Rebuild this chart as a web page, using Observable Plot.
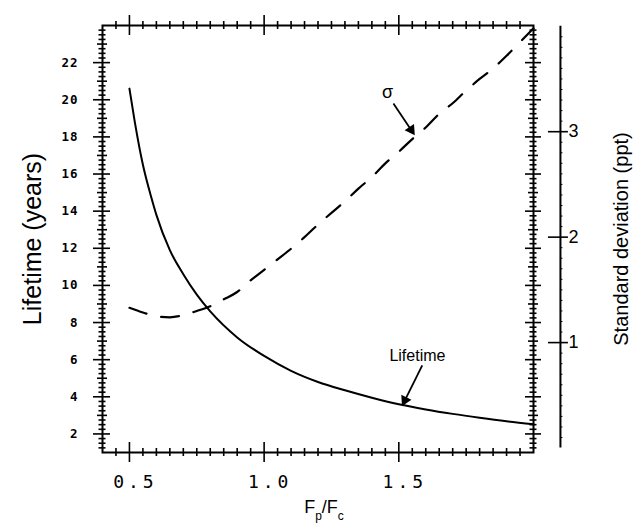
<!DOCTYPE html>
<html>
<head>
<meta charset="utf-8">
<script src="https://cdn.jsdelivr.net/npm/d3@7"></script>
<script src="https://cdn.jsdelivr.net/npm/@observablehq/plot@0.6"></script>
<style>
  html, body { margin: 0; padding: 0; background: #fff; }
  #chart { width: 635px; height: 531px; }
  .xtick text { letter-spacing: 4px; }
  .ytick text { letter-spacing: 1px; }
</style>
</head>
<body>
<div id="chart"></div>
<script>
// Particle lifetime (years) versus the flux ratio Fp/Fc
const lifetimeRatio = [0.5, 0.52, 0.55, 0.58, 0.6, 0.65, 0.7, 0.75, 0.8, 0.9, 1.0, 1.1, 1.2, 1.3, 1.4, 1.5, 1.6, 1.7, 1.8, 1.9, 2.0];
const lifetimeYears = [20.6, 18.8, 16.5, 14.8, 13.8, 11.9, 10.6, 9.5, 8.6, 7.2, 6.2, 5.4, 4.8, 4.35, 3.95, 3.6, 3.32, 3.08, 2.87, 2.68, 2.52];

// Standard deviation (ppt) versus the same ratio
const sigmaRatio = [0.5, 0.55, 0.6, 0.65, 0.7, 0.75, 0.8, 0.85, 0.9, 0.95, 1.0, 1.05, 1.1, 1.15, 1.2, 1.25, 1.3, 1.35, 1.4, 1.45, 1.5, 1.55, 1.6, 1.65, 1.7, 1.75, 1.8, 1.85, 1.9, 1.95, 2.0];
const sigmaPpt = [1.33, 1.285, 1.25, 1.24, 1.26, 1.30, 1.345, 1.41, 1.48, 1.59, 1.69, 1.79, 1.89, 2.0, 2.12, 2.23, 2.34, 2.46, 2.57, 2.70, 2.81, 2.93, 3.04, 3.17, 3.27, 3.39, 3.50, 3.60, 3.72, 3.85, 3.98];

// Tick labels
const xTickLabels = [0.5, 1.0, 1.5];
const yTickLabels = [2, 4, 6, 8, 10, 12, 14, 16, 18, 20, 22];
const sigmaTickLabels = [1, 2, 3];

// Axis extents
const xDomain = [0.4, 2.0];
const yDomain = [1, 24];
const sigmaDomain = [0, 4];
const sigmaAxisAt = 2.1;

// The standard deviation shares the lifetime y scale through a linear map
const sigmaToYears = s => 1.24 + 5.68 * s;

const lifetime = lifetimeRatio.map((r, i) => ({r, v: lifetimeYears[i]}));
const sigma = sigmaRatio.map((r, i) => ({r, v: sigmaToYears(sigmaPpt[i])}));

// Callouts: label position, pointer start and pointer tip (ratio, years)
const callouts = [
  {label: "Lifetime", lx: 1.569, ly: 6.22, x1: 1.587, y1: 5.69, x2: 1.516, y2: 3.62},
  {label: "σ", lx: 1.458, ly: 20.39, x1: 1.480, y1: 19.8, x2: 1.554, y2: 18.2}
];

// Layout
const W = 635, H = 531;
const M = {left: 102, right: 102, top: 25, bottom: 79};
const pxPerX = (W - M.left - M.right) / (xDomain[1] - xDomain[0]);
const pxPerY = (H - M.top - M.bottom) / (yDomain[1] - yDomain[0]);

// Filled pointer heads: a triangle set back a little from each tip, turned along the pointer
const heads = callouts.map(c => {
  const dxp = (c.x2 - c.x1) * pxPerX, dyp = -(c.y2 - c.y1) * pxPerY;
  const len = Math.hypot(dxp, dyp), back = 4;
  return {
    x: c.x2 - (dxp / len) * back / pxPerX,
    y: c.y2 + (dyp / len) * back / pxPerY,
    angle: Math.atan2(dxp, -dyp) * 180 / Math.PI
  };
});

// Frame tick positions
const steps = (a, b, step) => d3.range(Math.round(a / step), Math.round(b / step) + 1).map(k => +(k * step).toFixed(4));
const xMinor = steps(0.45, 1.95, 0.05).filter(d => !xTickLabels.some(t => Math.abs(t - d) < 1e-6));
const yMinor = steps(1.25, 23.75, 0.25).filter(d => Math.abs(d - Math.round(d)) > 1e-6);
const yMid = steps(2, 23, 1).filter(d => d % 2 === 1);
const sigmaMinor = steps(0.1, 3.9, 0.1).filter(d => Math.abs(d - Math.round(d)) > 1e-6);

const sans = "'Liberation Sans', Arial, Helvetica, sans-serif";
const mono = "'DejaVu Sans Mono', monospace";

// Short rules that cross an edge of the frame; lengths are in pixels on each side
const xTicks = (values, len, y, sw = 1.6) =>
  Plot.ruleX(values, {x: d => d, y1: y - len / pxPerY, y2: y + len / pxPerY, strokeWidth: sw});
const yTicks = (values, lenL, lenR, x, sw = 1.6) =>
  Plot.ruleY(values, {y: d => d, x1: x - lenL / pxPerX, x2: x + lenR / pxPerX, strokeWidth: sw});

const chart = Plot.plot({
  width: W,
  height: H,
  marginLeft: M.left,
  marginRight: M.right,
  marginTop: M.top,
  marginBottom: M.bottom,
  x: {domain: xDomain, axis: null},
  y: {domain: yDomain, axis: null},
  style: {background: "#fff", color: "#000", fontFamily: sans, overflow: "visible"},
  marks: [
    Plot.frame({stroke: "#000", strokeWidth: 2}),

    // ticks on the bottom and top edges
    xTicks(xMinor, 4, yDomain[0]),
    xTicks(xMinor, 4, yDomain[1]),
    xTicks(xTickLabels, 10, yDomain[0]),
    xTicks(xTickLabels, 10, yDomain[1]),

    // ticks on the left and right edges
    yTicks(yMinor, 3.5, 3.5, xDomain[0]),
    yTicks(yMinor, 3.5, 3.5, xDomain[1]),
    yTicks(yMid, 5, 5, xDomain[0]),
    yTicks(yMid, 5, 5, xDomain[1]),
    yTicks(yTickLabels, 9, 8, xDomain[0]),
    yTicks(yTickLabels, 8, 8, xDomain[1]),

    // tick labels
    Plot.text(xTickLabels, {
      x: d => d, y: yDomain[0], dy: 30, dx: 6, text: d => d.toFixed(1),
      fontFamily: mono, fontSize: 18, className: "xtick"
    }),
    Plot.text(yTickLabels, {
      x: xDomain[0], y: d => d, dx: -24, text: d => String(d), textAnchor: "end",
      fontFamily: mono, fontWeight: "bold", fontSize: 12.5, className: "ytick"
    }),

    // separate standard deviation axis on the right
    Plot.ruleX([sigmaAxisAt], {x: d => d, y1: sigmaToYears(sigmaDomain[0]), y2: sigmaToYears(sigmaDomain[1]), strokeWidth: 2}),
    yTicks(sigmaMinor.map(sigmaToYears), 0, 2.5, sigmaAxisAt, 1),
    yTicks(sigmaTickLabels.map(sigmaToYears), 12, 8, sigmaAxisAt),
    Plot.text(sigmaTickLabels, {
      x: sigmaAxisAt, y: d => sigmaToYears(d), dx: 8, text: d => String(d), textAnchor: "start",
      fontFamily: sans, fontSize: 18
    }),

    // curves
    Plot.line(lifetime, {x: "r", y: "v", curve: "monotone-x", stroke: "#000", strokeWidth: 2}),
    Plot.line(sigma, {x: "r", y: "v", curve: "monotone-x", stroke: "#000", strokeWidth: 2.2, strokeDasharray: "18 15"}),

    // callouts
    Plot.text(callouts, {x: "lx", y: "ly", text: "label", fontFamily: sans, fontSize: d => d.label === "σ" ? 18 : 16}),
    Plot.link(callouts, {x1: "x1", y1: "y1", x2: "x2", y2: "y2", stroke: "#000", strokeWidth: 1.8}),
    Plot.dot(heads, {x: "x", y: "y", rotate: "angle", symbol: "triangle", r: 4.2, fill: "#000", stroke: "none"}),

    // axis titles, centred on the frame
    Plot.text(["Lifetime (years)"], {frameAnchor: "left", textAnchor: "middle", dx: -70, rotate: -90, fontFamily: sans, fontSize: 25}),
    Plot.text(["Standard deviation (ppt)"], {frameAnchor: "right", textAnchor: "middle", dx: 88, rotate: -90, fontFamily: sans, fontSize: 20}),
    Plot.text(["Fp/Fc"], {frameAnchor: "bottom", dy: 60, dx: 6, fontFamily: sans, fontSize: 18})
  ]
});

// Subscripts for the x-axis title
d3.select(chart).selectAll("text").filter(function () { return this.textContent === "Fp/Fc"; }).each(function () {
  const t = d3.select(this);
  t.text(null);
  t.append("tspan").text("F");
  t.append("tspan").attr("baseline-shift", "sub").attr("font-size", "12").text("p");
  t.append("tspan").text("/F");
  t.append("tspan").attr("baseline-shift", "sub").attr("font-size", "12").text("c");
});

document.getElementById("chart").append(chart);
</script>
</body>
</html>
